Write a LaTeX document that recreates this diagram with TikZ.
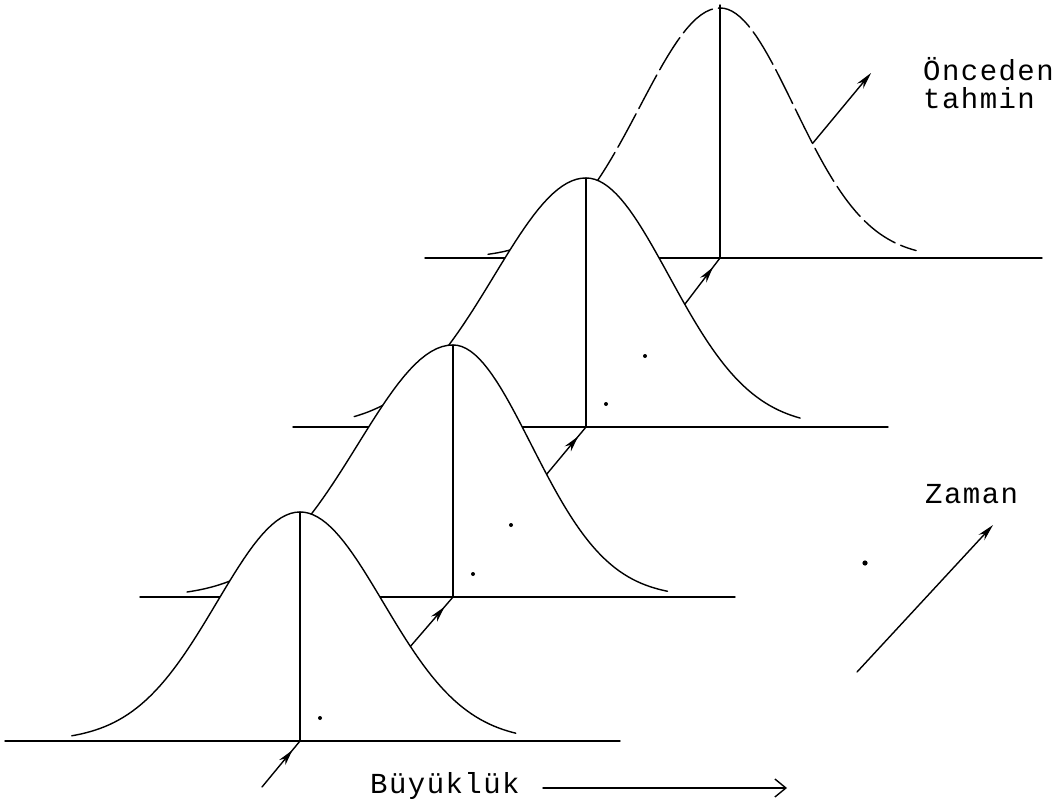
\documentclass[tikz,border=0pt]{standalone}
\usepackage{fontspec}
\setmonofont{Liberation Mono}
\usetikzlibrary{arrows.meta,decorations.markings}
% #1 cx, #2 baseline row, #3 height, #4 left sigma, #5 right sigma, #6 t-min (neg), #7 t-max
\newcommand\bellplot[7]{plot[domain=#6:0,samples=50,variable=\t]({#1+#4*\t},{#2-#3*exp(-0.5*\t*\t)}) -- plot[domain=0:#7,samples=50,variable=\t]({#1+#5*\t},{#2-#3*exp(-0.5*\t*\t)})}
\newcommand\bellregion[7]{\fill[white] \bellplot{#1}{#2}{#3}{#4}{#5}{#6}{#7} -- ({#1+#5*(#7)},#2) -- ({#1+#4*(#6)},#2) -- cycle;}
\tikzset{
  ln/.style={line width=1.4pt,line cap=round,line join=round},
  dashcurve/.style={ln,dash pattern=on 38pt off 6pt},
  midarrow/.style={ln,postaction={decorate},decoration={markings,mark=at position #1 with {\arrow{Stealth[length=16pt,width=8pt]}}}},
  midarrow/.default=0.8,
  endarrow/.style={ln,-{Stealth[length=17pt,width=8pt]}},
  lbl/.style={inner sep=0pt,anchor=base west,font=\fontsize{29}{28}\selectfont\ttfamily\addfontfeature{LetterSpace=5}},
  speck/.style={fill=black}
}
\begin{document}
\begin{tikzpicture}[x=1pt,y=-1pt]
\useasboundingbox (0,0) rectangle (1064,802);
\fill[white] (0,0) rectangle (1064,802);
% junctions, peaks
\coordinate (J1) at (300,741); \coordinate (P1) at (300,512);
\coordinate (J2) at (453,597); \coordinate (P2) at (453,345);
\coordinate (J3) at (586,427); \coordinate (P3) at (586,178);
\coordinate (J4) at (720,258); \coordinate (P4) at (720,5);
% arrow starts on curves
\coordinate (S0) at (262,787);
\coordinate (S1) at ({300+83*1.33},{741-229*exp(-0.5*1.33*1.33)});
\coordinate (S2) at ({453+78*1.2},{597-252*exp(-0.5*1.2*1.2)});
\coordinate (S3) at ({586+83*1.19},{427-249*exp(-0.5*1.19*1.19)});
\coordinate (S4) at ({720+74*1.25},{258-250*exp(-0.5*1.25*1.25)});
\coordinate (E4) at (871,73);
% ---- curve 4 (prediction, dashed)
\draw[ln] (425,258) -- (1042,258);
\draw[dashcurve] \bellplot{720}{258}{250}{80}{74}{-2.9}{2.65};
\draw[ln] (J4) -- (P4);
\draw[endarrow] (S4) -- (E4);
% ---- curve 3
\bellregion{586}{427}{249}{92}{83}{-2.52}{2.58}
\draw[ln] (293,427) -- (888,427);
\draw[ln] \bellplot{586}{427}{249}{92}{83}{-2.52}{2.58};
\draw[ln] (J3) -- (P3);
\draw[midarrow=0.8] (S3) -- (J4);
% ---- curve 2
\bellregion{453}{597}{252}{95}{78}{-2.8}{2.75}
\draw[ln] (140,597) -- (735,597);
\draw[ln] \bellplot{453}{597}{252}{95}{78}{-2.8}{2.75};
\draw[ln] (J2) -- (P2);
\draw[midarrow=0.8] (S2) -- (J3);
% ---- curve 1
\bellregion{300}{741}{229}{83}{83}{-2.75}{2.6}
\draw[ln] (5,741) -- (620,741);
\draw[ln] \bellplot{300}{741}{229}{83}{83}{-2.75}{2.6};
\draw[ln] (J1) -- (P1);
\draw[midarrow=0.8] (S1) -- (J2);
\draw[midarrow=0.8] (S0) -- (J1);
% specks
\fill[speck] (320,718) circle (2);
\fill[speck] (473,574) circle (2);
\fill[speck] (511,525) circle (2);
\fill[speck] (606,404) circle (2);
\fill[speck] (645,356) circle (2);
\fill[speck] (865,563) circle (2.6);
% labels
\node[lbl] (buy) at (370,793) {Büyüklük};
\coordinate (K0) at (543,788); \coordinate (K1) at (787,788);
\draw[ln,-{Straight Barb[length=11pt,width=18pt]}] (K0) -- (K1);
\node[lbl] (zam) at (925,503) {Zaman};
\coordinate (Z0) at (857,672); \coordinate (Z1) at (993,525);
\draw[endarrow] (Z0) -- (Z1);
\node[lbl,align=left,anchor=north west] (onc) at (923,57) {Önceden\\tahmin};
\end{tikzpicture}
\end{document}
